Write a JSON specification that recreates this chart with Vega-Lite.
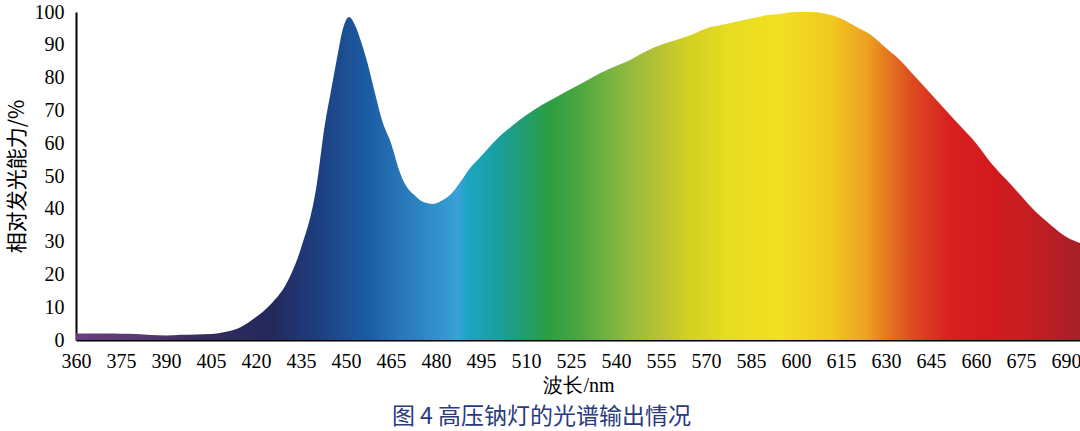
{
  "$schema": "https://vega.github.io/schema/vega-lite/v6.json",
  "width": 1005,
  "height": 328,
  "autosize": {"type": "none"},
  "padding": {"left": 76, "top": 12, "right": 0, "bottom": 91},
  "background": "white",
  "title": {
    "text": "图 4  高压钠灯的光谱输出情况",
    "orient": "bottom",
    "anchor": "middle",
    "dx": -37,
    "offset": 11,
    "font": "Noto Sans CJK SC",
    "fontSize": 23,
    "fontWeight": "normal",
    "color": "#2b3a7e"
  },
  "data": {
    "values": [
      {"wl": 360, "v": 2.0}, {"wl": 365, "v": 2.0}, {"wl": 370, "v": 2.0},
      {"wl": 375, "v": 1.9}, {"wl": 380, "v": 1.8}, {"wl": 385, "v": 1.5},
      {"wl": 390, "v": 1.4}, {"wl": 395, "v": 1.6}, {"wl": 400, "v": 1.7},
      {"wl": 405, "v": 1.8}, {"wl": 410, "v": 2.5}, {"wl": 415, "v": 4.0},
      {"wl": 420, "v": 7.0}, {"wl": 425, "v": 11}, {"wl": 430, "v": 17},
      {"wl": 435, "v": 28}, {"wl": 440, "v": 46}, {"wl": 443, "v": 66},
      {"wl": 445, "v": 76}, {"wl": 447, "v": 86}, {"wl": 449, "v": 95},
      {"wl": 451, "v": 98.5}, {"wl": 453, "v": 96}, {"wl": 455, "v": 91},
      {"wl": 457, "v": 85}, {"wl": 460, "v": 74}, {"wl": 462, "v": 67},
      {"wl": 465, "v": 60}, {"wl": 468, "v": 51}, {"wl": 470, "v": 47},
      {"wl": 473, "v": 44}, {"wl": 476, "v": 42}, {"wl": 479, "v": 41.5},
      {"wl": 482, "v": 42.5}, {"wl": 485, "v": 44.5}, {"wl": 488, "v": 48},
      {"wl": 491, "v": 52}, {"wl": 495, "v": 56}, {"wl": 500, "v": 61},
      {"wl": 505, "v": 65}, {"wl": 510, "v": 68.5}, {"wl": 515, "v": 71.5},
      {"wl": 520, "v": 74}, {"wl": 525, "v": 76.5}, {"wl": 530, "v": 79},
      {"wl": 535, "v": 81.5}, {"wl": 540, "v": 83.5}, {"wl": 545, "v": 85.5},
      {"wl": 550, "v": 88}, {"wl": 555, "v": 90}, {"wl": 560, "v": 91.5},
      {"wl": 565, "v": 93}, {"wl": 570, "v": 95}, {"wl": 575, "v": 96},
      {"wl": 580, "v": 97}, {"wl": 585, "v": 98}, {"wl": 590, "v": 99},
      {"wl": 595, "v": 99.5}, {"wl": 600, "v": 100}, {"wl": 605, "v": 100},
      {"wl": 610, "v": 99.5}, {"wl": 615, "v": 98}, {"wl": 620, "v": 95.5},
      {"wl": 625, "v": 93}, {"wl": 630, "v": 89}, {"wl": 635, "v": 85},
      {"wl": 640, "v": 80}, {"wl": 645, "v": 75}, {"wl": 650, "v": 70},
      {"wl": 655, "v": 65}, {"wl": 660, "v": 60}, {"wl": 665, "v": 54},
      {"wl": 670, "v": 49}, {"wl": 675, "v": 44}, {"wl": 680, "v": 39},
      {"wl": 685, "v": 35}, {"wl": 690, "v": 31.5}, {"wl": 695, "v": 29.5}
    ]
  },
  "mark": {
    "type": "area",
    "interpolate": "monotone",
    "color": {
      "gradient": "linear",
      "x1": 0, "y1": 0, "x2": 1, "y2": 0,
      "stops": [
        {"offset": 0, "color": "#6a3c82"},
        {"offset": 0.06, "color": "#5a3a72"},
        {"offset": 0.119, "color": "#3a2c64"},
        {"offset": 0.164, "color": "#2a2a5c"},
        {"offset": 0.194, "color": "#24285c"},
        {"offset": 0.242, "color": "#1d3f80"},
        {"offset": 0.293, "color": "#1c5ea6"},
        {"offset": 0.328, "color": "#2a7abb"},
        {"offset": 0.367, "color": "#3496d0"},
        {"offset": 0.379, "color": "#3aa0d8"},
        {"offset": 0.391, "color": "#1aa6c2"},
        {"offset": 0.424, "color": "#1a9e98"},
        {"offset": 0.469, "color": "#2a9e42"},
        {"offset": 0.504, "color": "#4fa83f"},
        {"offset": 0.543, "color": "#88b840"},
        {"offset": 0.573, "color": "#b0c038"},
        {"offset": 0.609, "color": "#d2d022"},
        {"offset": 0.651, "color": "#e8dc20"},
        {"offset": 0.701, "color": "#f2e021"},
        {"offset": 0.752, "color": "#f0c821"},
        {"offset": 0.788, "color": "#eca021"},
        {"offset": 0.806, "color": "#e47a1e"},
        {"offset": 0.833, "color": "#dc4a20"},
        {"offset": 0.869, "color": "#d82020"},
        {"offset": 0.91, "color": "#d41a1e"},
        {"offset": 0.952, "color": "#c41e22"},
        {"offset": 0.985, "color": "#b01e28"},
        {"offset": 1, "color": "#a82028"}
      ]
    }
  },
  "encoding": {
    "x": {
      "field": "wl",
      "type": "quantitative",
      "scale": {"domain": [360, 695], "nice": false, "zero": false},
      "axis": {
        "title": "波长/nm",
        "values": [360, 375, 390, 405, 420, 435, 450, 465, 480, 495, 510, 525, 540, 555, 570, 585, 600, 615, 630, 645, 660, 675, 690],
        "grid": false,
        "ticks": false,
        "domainColor": "black",
        "domainWidth": 2,
        "labelFont": "Liberation Serif",
        "labelFontSize": 20,
        "labelColor": "black",
        "labelPadding": 11,
        "labelFlush": false,
        "labelOverlap": false,
        "titleFont": "Liberation Serif",
        "titleFontSize": 20,
        "titleFontWeight": "normal",
        "titleColor": "black",
        "titlePadding": 4
      }
    },
    "y": {
      "field": "v",
      "type": "quantitative",
      "scale": {"domain": [0, 100], "nice": false},
      "axis": {
        "title": "相对发光能力/%",
        "values": [0, 10, 20, 30, 40, 50, 60, 70, 80, 90, 100],
        "grid": false,
        "ticks": false,
        "domainColor": "black",
        "domainWidth": 2,
        "labelFont": "Liberation Serif",
        "labelFontSize": 20,
        "labelColor": "black",
        "labelPadding": 12,
        "labelFlush": false,
        "titleFont": "Noto Sans CJK SC",
        "titleFontSize": 21,
        "titleFontWeight": "normal",
        "titleColor": "black",
        "titlePadding": 7
      }
    }
  },
  "config": {"view": {"stroke": null}}
}
